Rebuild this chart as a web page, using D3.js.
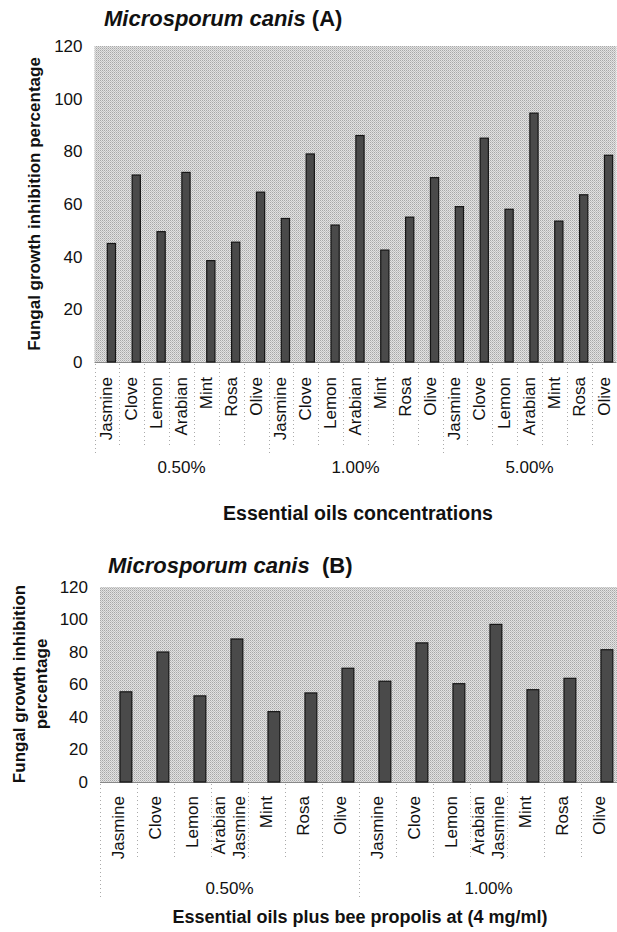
<!DOCTYPE html>
<html>
<head>
<meta charset="utf-8">
<script src="https://cdn.jsdelivr.net/npm/d3@7"></script>
<style>
  html, body { margin: 0; padding: 0; background: #fff; }
  svg { display: block; }
  text { font-family: "Liberation Sans", Arial, sans-serif; fill: #111; }
</style>
</head>
<body>
<svg id="chart" width="617" height="932"></svg>
<script>
// ---------- Data ----------
const oilsA = ["Jasmine","Clove","Lemon","Arabian","Mint","Rosa","Olive"];
const concA = ["0.50%","1.00%","5.00%"];
const valuesA = [45, 71, 49.5, 72, 38.5, 45.5, 64.5,
                 54.5, 79, 52, 86, 42.5, 55, 70,
                 59, 85, 58, 94.5, 53.5, 63.5, 78.5];

const oilsB = ["Jasmine","Clove","Lemon","Arabian Jasmine","Mint","Rosa","Olive"];
const concB = ["0.50%","1.00%"];
const valuesB = [55.5, 80, 53, 88, 43.3, 54.8, 70,
                 62, 85.6, 60.5, 97, 56.8, 63.8, 81.4];

const yTicks = [0, 20, 40, 60, 80, 100, 120];

const titleA = "Microsporum canis";
const titleATag = "(A)";
const titleBTag = "(B)";
const xTitleA = "Essential oils concentrations";
const xTitleB = "Essential oils plus bee propolis at (4 mg/ml)";
const yTitleA = ["Fungal growth inhibition percentage"];
const yTitleB = ["Fungal growth inhibition", "percentage"];

// ---------- Drawing ----------
const svg = d3.select("#chart");

const defs = svg.append("defs");
const pat = defs.append("pattern").attr("id", "halftone")
  .attr("width", 2).attr("height", 2).attr("patternUnits", "userSpaceOnUse");
pat.append("rect").attr("width", 2).attr("height", 2).attr("fill", "#e2e2e2");
pat.append("rect").attr("width", 1).attr("height", 1).attr("fill", "#a8a8a8");
pat.append("rect").attr("x", 1).attr("y", 1).attr("width", 1).attr("height", 1).attr("fill", "#c2c2c2");

function drawChart(cfg) {
  const g = svg.append("g");
  const cats = [];
  cfg.conc.forEach((c, gi) => cfg.oils.forEach((o, oi) => cats.push({id: gi + "_" + oi, oil: o, conc: c, gi})));
  const x = d3.scaleBand().domain(cats.map(d => d.id)).range([cfg.left, cfg.right]).padding(0);
  const y = d3.scaleLinear().domain([0, 120]).range([cfg.bottom, cfg.top]);

  // plot background
  g.append("rect")
    .attr("x", cfg.left).attr("y", cfg.top)
    .attr("width", cfg.right - cfg.left).attr("height", cfg.bottom - cfg.top)
    .attr("fill", "url(#halftone)");

  // y axis
  const yAxis = d3.axisLeft(y).tickValues(yTicks).tickSize(0).tickPadding(12);
  const ya = g.append("g").attr("transform", `translate(${cfg.left},0)`).call(yAxis);
  ya.select(".domain").remove();
  ya.selectAll("text").style("font-size", "17px").style("font-family", "'Liberation Sans', Arial, sans-serif").attr("fill", "#111");

  // baseline
  g.append("line").attr("x1", cfg.left).attr("x2", cfg.right)
    .attr("y1", cfg.bottom + 0.5).attr("y2", cfg.bottom + 0.5)
    .attr("stroke", "#888").attr("stroke-width", 1);

  // bars
  const bw = x.bandwidth() * cfg.barFrac;
  g.selectAll("rect.bar").data(cats.map((d, i) => ({...d, v: cfg.values[i]})))
    .join("rect").attr("class", "bar")
    .attr("x", d => x(d.id) + x.bandwidth() * (0.5 + cfg.barOffset) - bw / 2)
    .attr("y", d => y(d.v))
    .attr("width", bw)
    .attr("height", d => y(0) - y(d.v))
    .attr("fill", "#4a4a4a")
    .attr("stroke", "#151515").attr("stroke-width", 1.2);

  // category separators (dotted)
  cats.forEach((d, i) => {
    const isGroup = i % cfg.oils.length === 0;
    const xx = Math.round(x(d.id)) + 0.5;
    g.append("line").attr("x1", xx).attr("x2", xx)
      .attr("y1", cfg.bottom + 2).attr("y2", isGroup ? cfg.groupSepBottom : cfg.catSepBottom)
      .attr("stroke", "#aaa").attr("stroke-dasharray", "1,3");
  });

  // category labels (rotated)
  cats.forEach(d => {
    const cx = x(d.id) + x.bandwidth() / 2;
    const words = cfg.wrap && d.oil.includes(" ") ? d.oil.split(" ") : [d.oil];
    const lh = cfg.wrapLine;
    words.forEach((w, wi) => {
      const off = (wi - (words.length - 1) / 2) * lh;
      g.append("text")
        .attr("transform", `translate(${cx + off},${cfg.labelTop}) rotate(-90)`)
        .attr("text-anchor", "end")
        .attr("dominant-baseline", "central")
        .style("font-size", "17px")
        .text(w);
    });
  });

  // group labels
  cfg.conc.forEach((c, gi) => {
    const first = x(gi + "_0");
    const last = x(gi + "_" + (cfg.oils.length - 1)) + x.bandwidth();
    g.append("text").attr("x", (first + last) / 2).attr("y", cfg.groupY)
      .attr("text-anchor", "middle").attr("dominant-baseline", "central")
      .style("font-size", "17px").text(c);
  });

  // x title
  g.append("text").attr("x", cfg.xTitleX).attr("y", cfg.xTitleY)
    .attr("text-anchor", "middle").attr("dominant-baseline", "central")
    .style("font-size", cfg.xTitleSize).style("font-weight", "bold").text(cfg.xTitle);

  // y title
  cfg.yTitle.forEach((t, i) => {
    g.append("text")
      .attr("transform", `translate(${cfg.yTitleX[i]},${cfg.yTitleY}) rotate(-90)`)
      .attr("text-anchor", "middle").attr("dominant-baseline", "central")
      .style("font-size", "17px").style("font-weight", "bold").text(t);
  });

  // chart title
  const tt = g.append("text").attr("x", cfg.titleX).attr("y", cfg.titleY)
    .attr("dominant-baseline", "central")
    .style("font-size", "22px").style("font-weight", "bold");
  tt.append("tspan").style("font-style", "italic").text(titleA);
  tt.append("tspan").text("\u00a0" + cfg.tag);
}

drawChart({
  oils: oilsA, conc: concA, values: valuesA,
  left: 94.5, right: 616.5, top: 46, bottom: 362,
  barFrac: 0.33, barOffset: 0.18,
  labelTop: 377, catSepBottom: 445, groupSepBottom: 455, groupY: 467,
  wrap: false, wrapLine: 0,
  xTitle: xTitleA, xTitleX: 358, xTitleY: 513, xTitleSize: "19.5px",
  yTitle: yTitleA, yTitleX: [34], yTitleY: 204,
  titleX: 104, titleY: 18, tag: titleATag
});

drawChart({
  oils: oilsB, conc: concB, values: valuesB,
  left: 100, right: 618, top: 587, bottom: 782,
  barFrac: 0.32, barOffset: 0.2,
  labelTop: 796, catSepBottom: 860, groupSepBottom: 900, groupY: 888,
  wrap: true, wrapLine: 20,
  xTitle: xTitleB, xTitleX: 360, xTitleY: 917, xTitleSize: "18px",
  yTitle: yTitleB, yTitleX: [19, 41], yTitleY: 684,
  titleX: 108, titleY: 565, tag: "\u00a0" + titleBTag
});
</script>
</body>
</html>
